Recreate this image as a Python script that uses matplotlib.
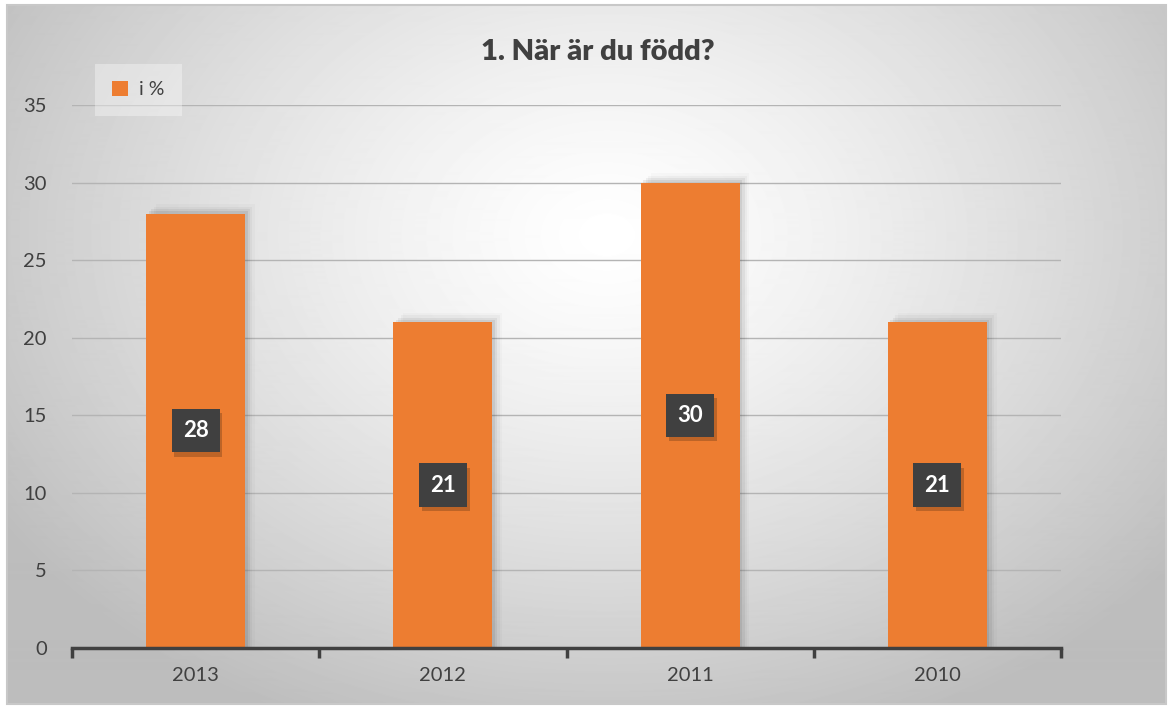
import matplotlib
matplotlib.use('Agg')
import matplotlib.pyplot as plt
from matplotlib.patches import Rectangle
import matplotlib.patheffects as pe
import numpy as np

plt.rcParams['font.family'] = ['Lato', 'DejaVu Sans']

years = ['2013', '2012', '2011', '2010']
percent = [28, 21, 30, 21]
title = '1. När är du född?'
legend_label = 'i %'

orange = '#ED7D31'
text_col = '#404040'

fig = plt.figure(figsize=(11.73, 7.07), dpi=100)
fig.patch.set_facecolor('white')

# gradient background of the chart area
bg = fig.add_axes([7 / 1173, 1 - 704 / 707, 1159 / 1173, 699 / 707])
yy, xx = np.mgrid[0:699, 0:1159]
cx, cy = 600, 230
d = np.sqrt(((xx - cx) / 700.0) ** 2 + ((yy - cy) / 520.0) ** 2)
shade = np.clip(1.0 - 0.25 * d ** 1.3, 0.74, 1.0)
bg.imshow(shade, cmap='gray', vmin=0, vmax=1, aspect='auto', interpolation='bilinear')
bg.set_axis_off()
fig.add_artist(Rectangle((7 / 1173, 1 - 704 / 707), 1159 / 1173, 699 / 707,
                         transform=fig.transFigure, fill=False, edgecolor='#c8c8c8', lw=1.5))

ax = fig.add_axes([72 / 1173, 1 - 648 / 707, 989 / 1173, 543 / 707])
ax.patch.set_alpha(0)
x = np.arange(len(years))
w = 0.40

# soft shadows to the right of the bars
for xi, v in zip(x, percent):
    for k, a in enumerate([0.07, 0.05, 0.03, 0.02]):
        ax.add_patch(Rectangle((xi - w / 2 + 0.01 * (k + 1), 0), w, v + 0.15 * (k + 1),
                               facecolor='black', alpha=a, edgecolor='none', zorder=1.5))

bars = ax.bar(x, percent, width=w, color=orange, zorder=2, label=legend_label)

for xi, v in zip(x, percent):
    t = ax.text(xi, v / 2, str(v), ha='center', va='center', fontsize=16,
                fontweight='bold', color='white', zorder=4,
                bbox=dict(boxstyle='square,pad=0.5', facecolor='#404040', edgecolor='none'))
    t.get_bbox_patch().set_path_effects([
        pe.SimplePatchShadow(offset=(2, -3), shadow_rgbFace='black', alpha=0.2),
        pe.Normal()])

ax.set_xlim(-0.5, len(years) - 0.5)
ax.set_ylim(0, 35)
ax.set_yticks(np.arange(0, 36, 5))
ax.grid(axis='y', color='#b4b4b4', lw=1, zorder=0)
ax.set_axisbelow(True)
for s in ['top', 'right', 'left']:
    ax.spines[s].set_visible(False)
ax.spines['bottom'].set_color(text_col)
ax.spines['bottom'].set_linewidth(2.5)
ax.spines['bottom'].set_zorder(5)

ax.set_xticks(np.arange(-0.5, len(years), 1), minor=False)
ax.set_xticklabels([])
ax.tick_params(axis='x', which='major', length=7, width=2.5, color=text_col, direction='out')
ax.set_xticks(x, minor=True)
ax.set_xticklabels(years, minor=True)
ax.tick_params(axis='x', which='minor', length=0, pad=14, labelsize=14.5, labelcolor=text_col)
ax.tick_params(axis='y', length=0, pad=18, labelsize=14.5, labelcolor=text_col)

fig.text(598 / 1173, 1 - 52 / 707, title, ha='center', va='center',
         fontsize=21, fontweight='heavy', color=text_col)

leg = ax.legend(loc='upper left', bbox_to_anchor=(13 / 989, 1 + 51 / 543), frameon=True,
                handlelength=0.8, handleheight=0.8, fontsize=14, borderpad=0.9,
                handletextpad=0.6, fancybox=False)
leg.get_frame().set_facecolor('white')
leg.get_frame().set_alpha(0.35)
leg.get_frame().set_edgecolor('none')
for t in leg.get_texts():
    t.set_color(text_col)

plt.savefig('out.png', dpi=100)
